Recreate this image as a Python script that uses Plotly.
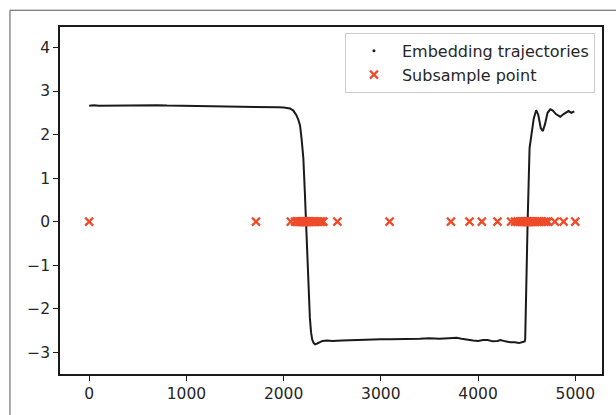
import plotly.graph_objects as go

# Embedding trajectory
traj_x = [0, 50, 100, 200, 300, 400, 500, 600, 700, 800, 1000, 1200, 1400, 1600, 1700,
          1800, 1900, 1950, 2000, 2066, 2100, 2130, 2150, 2169, 2185, 2203, 2218, 2231,
          2254, 2270, 2282, 2295, 2310, 2324, 2345, 2400, 2450, 2500, 2600, 2700, 2800,
          2900, 3000, 3100, 3200, 3300, 3400, 3500, 3600, 3700, 3780, 3830, 3900, 3950,
          4000, 4050, 4100, 4150, 4200, 4230, 4280, 4330, 4380, 4420, 4450, 4480, 4485,
          4495, 4510, 4530, 4547, 4573, 4598, 4620, 4645, 4667, 4690, 4715, 4743, 4770,
          4800, 4846, 4880, 4931, 4960, 4990]
traj_y = [2.66, 2.67, 2.66, 2.665, 2.66, 2.67, 2.68, 2.685, 2.675, 2.665, 2.66, 2.655,
          2.655, 2.65, 2.645, 2.64, 2.63, 2.625, 2.62, 2.60, 2.55, 2.45, 2.35, 2.21, 1.9,
          1.46, 0.7, 0.0, -1.55, -2.2, -2.54, -2.72, -2.79, -2.82, -2.80, -2.74, -2.73,
          -2.74, -2.73, -2.72, -2.72, -2.71, -2.70, -2.70, -2.70, -2.69, -2.69, -2.68,
          -2.69, -2.68, -2.67, -2.69, -2.72, -2.73, -2.74, -2.72, -2.72, -2.75, -2.74,
          -2.72, -2.75, -2.77, -2.77, -2.79, -2.77, -2.75, -2.70, -1.5, 0.0, 1.69, 1.99,
          2.37, 2.56, 2.45, 2.15, 2.08, 2.25, 2.50, 2.58, 2.55, 2.47, 2.41, 2.47, 2.54,
          2.50, 2.53]

# Subsample points (all at y = 0)
sub_x = [0, 1716, 2074,
         2118, 2135, 2150, 2162, 2172, 2180, 2188, 2195, 2201, 2207, 2212, 2217, 2222,
         2227, 2232, 2237, 2243, 2250, 2258, 2267, 2278, 2292, 2310, 2330, 2355, 2375, 2392,
         2409, 2553, 3090, 3721, 3912, 4039, 4200,
         4340, 4380, 4410, 4430, 4445, 4458, 4470, 4480, 4488, 4495, 4500, 4505, 4510,
         4515, 4520, 4526, 4533, 4540, 4550, 4560, 4575, 4590, 4610, 4630, 4655, 4680,
         4700, 4720, 4790, 4880, 5000]
sub_y = [0] * len(sub_x)

x_ticks = [0, 1000, 2000, 3000, 4000, 5000]
y_ticks = [-3, -2, -1, 0, 1, 2, 3, 4]

RED = "#EE4B2B"
FONT = "DejaVu Sans"

fig = go.Figure()
fig.add_trace(go.Scatter(x=traj_x, y=traj_y, mode="lines",
                         line=dict(color="#1a1a1a", width=2),
                         showlegend=False, hoverinfo="skip"))
fig.add_trace(go.Scatter(x=[None], y=[None], mode="markers",
                         marker=dict(color="#1a1a1a", size=3),
                         name="Embedding trajectories"))
fig.add_trace(go.Scatter(x=sub_x, y=sub_y, mode="markers",
                         marker=dict(symbol="x-thin", size=8, color=RED,
                                     line=dict(color=RED, width=2.2)),
                         name="Subsample point"))

axis_common = dict(showline=True, mirror=True, linecolor="#1a1a1a", linewidth=1.5,
                   ticks="outside", ticklen=5, tickwidth=1.3, tickcolor="#1a1a1a",
                   showgrid=False, zeroline=False,
                   tickfont=dict(family=FONT, size=15.5, color="#262626"))

fig.update_layout(
    width=616, height=415,
    margin=dict(l=60, r=14, t=27, b=36),
    paper_bgcolor="white", plot_bgcolor="white",
    font=dict(family=FONT, size=15.5, color="#262626"),
    xaxis=dict(range=[-300, 5275], tickvals=x_ticks, **axis_common),
    yaxis=dict(range=[-3.5, 4.47], tickvals=y_ticks, **axis_common),
    legend=dict(x=0.987, xanchor="right", y=0.983, yanchor="top",
                bordercolor="#cccccc", borderwidth=1,
                bgcolor="rgba(255,255,255,0.85)",
                font=dict(family=FONT, size=16, color="#262626"),
                itemwidth=46),
    shapes=[dict(type="rect", xref="paper", yref="paper",
                 x0=-0.0923, x1=1.05, y0=-0.2, y1=1.0483,
                 line=dict(color="#555555", width=1), layer="below")],
)

fig.write_html("out.html",
               config={"displayModeBar": False},
               post_script="document.body.style.margin='0';"
                           "document.body.style.overflow='hidden';")
